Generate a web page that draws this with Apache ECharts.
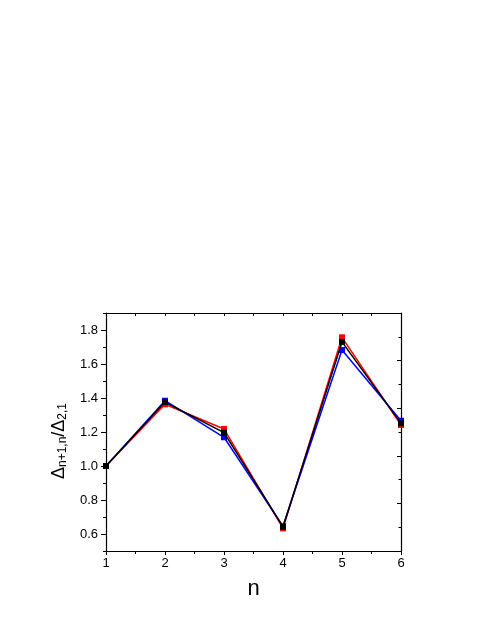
<!DOCTYPE html>
<html>
<head>
<meta charset="utf-8">
<script src="https://cdn.jsdelivr.net/npm/echarts@6/dist/echarts.min.js"></script>
<style>
  html, body { margin: 0; padding: 0; background: #fff; }
  #chart { width: 491px; height: 635px; }
</style>
</head>
<body>
<div id="chart"></div>
<script>
// data
const nValues = [1, 2, 3, 4, 5, 6];
const redValues = [1.0, 1.363, 1.218, 0.633, 1.757, 1.241];
const blueValues = [1.0, 1.384, 1.169, 0.645, 1.682, 1.266];
const blackValues = [1.0, 1.376, 1.196, 0.643, 1.73, 1.251];
const yMajorTicks = [0.6, 0.8, 1.0, 1.2, 1.4, 1.6, 1.8];
const yMinorTicks = [0.5, 0.7, 0.9, 1.1, 1.3, 1.5, 1.7, 1.9];

const font = 'Liberation Sans, Arial, sans-serif';
const axisCol = '#000';

function pairs(vals) {
  return nValues.map((n, i) => [n, vals[i]]);
}

function lineSeries(name, vals, color, z) {
  return {
    name: name,
    type: 'line',
    data: pairs(vals),
    xAxisIndex: 0,
    yAxisIndex: 0,
    symbol: 'rect',
    symbolSize: 6,
    z: z,
    lineStyle: { color: color, width: 1.5 },
    itemStyle: { color: color },
    animation: false
  };
}

const chart = echarts.init(document.getElementById('chart'), null, { renderer: 'canvas' });
chart.setOption({
  backgroundColor: '#fff',
  animation: false,
  grid: { left: 106, right: 90, top: 313, bottom: 84 },
  xAxis: [{
    type: 'value',
    position: 'bottom',
    min: 1, max: 6, interval: 1,
    name: 'n',
    nameLocation: 'middle',
    nameGap: 27,
    nameTextStyle: { fontFamily: font, fontSize: 22, color: axisCol },
    axisLine: { show: true, lineStyle: { color: axisCol, width: 1.2 } },
    axisTick: { show: true, inside: false, length: 4, lineStyle: { color: axisCol } },
    minorTick: { show: true, splitNumber: 2, length: 3, lineStyle: { color: axisCol } },
    axisLabel: { fontFamily: font, fontSize: 13, color: axisCol, margin: 6 },
    splitLine: { show: false }
  }, {
    type: 'value',
    position: 'top',
    min: 1, max: 6, interval: 0.5,
    axisLine: { show: true, onZero: false, lineStyle: { color: axisCol, width: 1.2 } },
    axisTick: { show: true, inside: true, length: 3, lineStyle: { color: axisCol } },
    axisLabel: { show: false },
    splitLine: { show: false }
  }],
  yAxis: [{
    type: 'value',
    position: 'left',
    min: 0.5, max: 1.9,
    name: '{d|Δ}{s|n+1,n}{d|/Δ}{s|2,1}',
    nameLocation: 'middle',
    nameRotate: 90,
    nameGap: 31,
    nameTextStyle: {
      fontFamily: font,
      color: axisCol,
      padding: [0, 18, 0, 0],
      rich: {
        d: { fontFamily: font, fontSize: 18, color: axisCol },
        s: { fontFamily: font, fontSize: 12, color: axisCol, padding: [7, 0, 0, 0], verticalAlign: 'bottom' }
      }
    },
    axisLine: { show: true, onZero: false, lineStyle: { color: axisCol, width: 1.2 } },
    axisTick: { show: true, inside: false, length: 5, customValues: yMajorTicks, lineStyle: { color: axisCol } },
    axisLabel: {
      fontFamily: font, fontSize: 13, color: axisCol, margin: 8,
      customValues: yMajorTicks,
      formatter: (v) => v.toFixed(1)
    },
    splitLine: { show: false }
  }, {
    type: 'value',
    position: 'left',
    min: 0.5, max: 1.9,
    axisLine: { show: false },
    axisTick: { show: true, inside: false, length: 3, customValues: yMinorTicks, lineStyle: { color: axisCol } },
    axisLabel: { show: false, customValues: yMinorTicks },
    splitLine: { show: false }
  }, {
    type: 'value',
    position: 'right',
    min: 0, max: 10, interval: 2,
    axisLine: { show: true, onZero: false, lineStyle: { color: axisCol, width: 1.2 } },
    axisTick: { show: true, inside: true, length: 4, lineStyle: { color: axisCol } },
    minorTick: { show: true, splitNumber: 2, length: 2.5, lineStyle: { color: axisCol } },
    axisLabel: { show: false },
    splitLine: { show: false }
  }],
  series: [
    lineSeries('red', redValues, '#ff0000', 3),
    lineSeries('blue', blueValues, '#0000ff', 4),
    lineSeries('black', blackValues, '#000000', 5)
  ]
});
</script>
</body>
</html>
